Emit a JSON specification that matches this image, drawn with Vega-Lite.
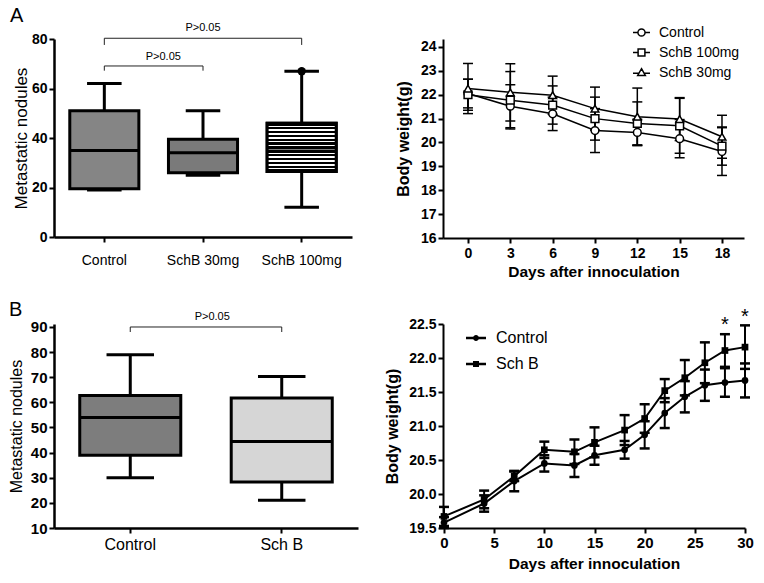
{
"$schema": "https://vega.github.io/schema/vega-lite/v6.json",
"autosize": {"type": "pad"},
"padding": {"left": 8, "top": 6, "right": 0, "bottom": 0},
"background": "white",
"config": {
  "font": "Liberation Sans",
  "view": {"stroke": null},
  "axis": {"domainColor": "black", "tickColor": "black", "labelColor": "black", "titleColor": "black", "grid": false, "tickSize": 5, "tickWidth": 2, "domainWidth": 2, "labelPadding": 2, "labelOverlap": false, "labelFont": "Liberation Sans", "titleFont": "Liberation Sans"},
  "title": {"color": "black", "font": "Liberation Sans"},
  "legend": {"labelFont": "Liberation Sans", "labelColor": "black"}
},
"datasets": {
  "boxA": [
    {"group": "Control", "min": 19, "q1": 19.5, "median": 35, "q3": 51, "max": 62},
    {"group": "SchB 30mg", "min": 25, "q1": 26, "median": 34, "q3": 39.5, "max": 51},
    {"group": "SchB 100mg", "min": 12, "q1": 26.5, "median": 36, "q3": 46, "max": 67}
  ],
  "outlierA": [{"group": "SchB 100mg", "value": 67}],
  "bracketA": [
    {"from": "Control", "to": "SchB 100mg", "y": 80.3, "yEnd": 77.6},
    {"from": "Control", "to": "SchB 30mg", "y": 69.1, "yEnd": 67.2}
  ],
  "bodyA": [
    {"group": "Control", "day": 0, "mean": 22.05, "lo": 21.45, "hi": 22.65},
    {"group": "Control", "day": 3, "mean": 21.52, "lo": 20.62, "hi": 22.42},
    {"group": "Control", "day": 6, "mean": 21.2, "lo": 20.5, "hi": 21.9},
    {"group": "Control", "day": 9, "mean": 20.5, "lo": 19.58, "hi": 21.42},
    {"group": "Control", "day": 12, "mean": 20.42, "lo": 19.87, "hi": 20.97},
    {"group": "Control", "day": 15, "mean": 20.16, "lo": 19.36, "hi": 20.96},
    {"group": "Control", "day": 18, "mean": 19.62, "lo": 18.62, "hi": 20.62},
    {"group": "SchB 100mg", "day": 0, "mean": 22.0, "lo": 21.35, "hi": 22.65},
    {"group": "SchB 100mg", "day": 3, "mean": 21.77, "lo": 20.57, "hi": 22.97},
    {"group": "SchB 100mg", "day": 6, "mean": 21.57, "lo": 20.77, "hi": 22.37},
    {"group": "SchB 100mg", "day": 9, "mean": 21.0, "lo": 20.1, "hi": 21.9},
    {"group": "SchB 100mg", "day": 12, "mean": 20.8, "lo": 19.9, "hi": 21.7},
    {"group": "SchB 100mg", "day": 15, "mean": 20.7, "lo": 19.55, "hi": 21.85},
    {"group": "SchB 100mg", "day": 18, "mean": 19.85, "lo": 19.05, "hi": 20.65},
    {"group": "SchB 30mg", "day": 0, "mean": 22.26, "lo": 21.21, "hi": 23.31},
    {"group": "SchB 30mg", "day": 3, "mean": 22.1, "lo": 20.9, "hi": 23.3},
    {"group": "SchB 30mg", "day": 6, "mean": 21.98, "lo": 21.18, "hi": 22.78},
    {"group": "SchB 30mg", "day": 9, "mean": 21.42, "lo": 20.52, "hi": 22.32},
    {"group": "SchB 30mg", "day": 12, "mean": 21.08, "lo": 19.88, "hi": 22.28},
    {"group": "SchB 30mg", "day": 15, "mean": 20.98, "lo": 20.08, "hi": 21.88},
    {"group": "SchB 30mg", "day": 18, "mean": 20.24, "lo": 19.34, "hi": 21.14}
  ],
  "boxB": [
    {"group": "Control", "min": 30, "q1": 39, "median": 54, "q3": 62.7, "max": 79},
    {"group": "Sch B", "min": 21, "q1": 28.3, "median": 44.4, "q3": 61.7, "max": 70.3}
  ],
  "bracketB": [{"from": "Control", "to": "Sch B", "y": 90, "yEnd": 88}],
  "bodyB": [
    {"group": "Control", "day": 0, "mean": 19.58, "lo": 19.5, "hi": 19.66},
    {"group": "Control", "day": 4, "mean": 19.86, "lo": 19.74, "hi": 19.98},
    {"group": "Control", "day": 7, "mean": 20.19, "lo": 20.04, "hi": 20.34},
    {"group": "Control", "day": 10, "mean": 20.45, "lo": 20.33, "hi": 20.57},
    {"group": "Control", "day": 13, "mean": 20.42, "lo": 20.25, "hi": 20.59},
    {"group": "Control", "day": 15, "mean": 20.57, "lo": 20.43, "hi": 20.71},
    {"group": "Control", "day": 18, "mean": 20.65, "lo": 20.52, "hi": 20.78},
    {"group": "Control", "day": 20, "mean": 20.87, "lo": 20.67, "hi": 21.07},
    {"group": "Control", "day": 22, "mean": 21.19, "lo": 20.97, "hi": 21.41},
    {"group": "Control", "day": 24, "mean": 21.43, "lo": 21.2, "hi": 21.66},
    {"group": "Control", "day": 26, "mean": 21.6, "lo": 21.37, "hi": 21.83},
    {"group": "Control", "day": 28, "mean": 21.64, "lo": 21.43, "hi": 21.85},
    {"group": "Control", "day": 30, "mean": 21.67, "lo": 21.42, "hi": 21.92},
    {"group": "Sch B", "day": 0, "mean": 19.67, "lo": 19.53, "hi": 19.81},
    {"group": "Sch B", "day": 4, "mean": 19.92, "lo": 19.79, "hi": 20.05},
    {"group": "Sch B", "day": 7, "mean": 20.26, "lo": 20.19, "hi": 20.33},
    {"group": "Sch B", "day": 10, "mean": 20.65, "lo": 20.53, "hi": 20.77},
    {"group": "Sch B", "day": 13, "mean": 20.62, "lo": 20.44, "hi": 20.8},
    {"group": "Sch B", "day": 15, "mean": 20.76, "lo": 20.54, "hi": 20.98},
    {"group": "Sch B", "day": 18, "mean": 20.94, "lo": 20.72, "hi": 21.16},
    {"group": "Sch B", "day": 20, "mean": 21.11, "lo": 20.9, "hi": 21.32},
    {"group": "Sch B", "day": 22, "mean": 21.52, "lo": 21.35, "hi": 21.69},
    {"group": "Sch B", "day": 24, "mean": 21.71, "lo": 21.45, "hi": 21.97},
    {"group": "Sch B", "day": 26, "mean": 21.93, "lo": 21.63, "hi": 22.23},
    {"group": "Sch B", "day": 28, "mean": 22.11, "lo": 21.87, "hi": 22.35},
    {"group": "Sch B", "day": 30, "mean": 22.16, "lo": 21.84, "hi": 22.48}
  ],
  "starsB": [{"day": 28, "y": 22.48, "label": "*"}, {"day": 30, "y": 22.6, "label": "*"}]
},
"columns": 2,
"align": "none",
"bounds": "flush",
"spacing": {"row": 86, "column": 85},
"resolve": {"scale": {"fill": "independent", "shape": "independent"}, "legend": {"fill": "independent", "shape": "independent"}},
"concat": [
      {
        "width": 298, "height": 198,
        "title": {"text": "A", "anchor": "start", "fontSize": 20, "fontWeight": "normal", "dx": -44, "offset": -20, "baseline": "alphabetic", "frame": "group"},
        "layer": [
          {"data": {"name": "boxA"}, "mark": {"type": "rule", "color": "black", "strokeWidth": 3},
           "encoding": {
             "x": {"field": "group", "type": "nominal", "bandPosition": 0.5, "scale": {"type": "band", "domain": ["Control", "SchB 30mg", "SchB 100mg"], "paddingInner": 0.3, "paddingOuter": 0.16},
                   "axis": {"title": null, "labelAngle": 0, "labelFontSize": 14, "labelPadding": 11, "domainWidth": 2.5, "tickWidth": 2}},
             "y": {"field": "min", "type": "quantitative", "scale": {"domain": [0, 80], "nice": false},
                   "axis": {"values": [0, 20, 40, 60, 80], "tickCount": 20, "format": "d", "labelOverlap": false, "title": "Metastatic nodules", "titleFontSize": 17, "titleFontWeight": "normal", "labelFontSize": 14, "labelFontWeight": "bold", "titlePadding": 1, "domainWidth": 2.5}},
             "y2": {"field": "max"}}},
          {"data": {"name": "boxA"}, "mark": {"type": "bar", "stroke": "black", "strokeWidth": 3},
           "encoding": {
             "x": {"field": "group", "type": "nominal"},
             "y": {"field": "q1", "type": "quantitative"}, "y2": {"field": "q3"},
             "fill": {"field": "group", "type": "nominal", "scale": {"domain": ["Control", "SchB 30mg", "SchB 100mg"], "range": ["#858585", "#7a7a7a", "#333333"]}, "legend": null}}},
          {"data": {"name": "boxA"}, "transform": [{"filter": "datum.group === 'SchB 100mg'"}],
           "mark": {"type": "bar", "stroke": "black", "strokeWidth": 3,
             "fill": {"gradient": "linear", "x1": 0, "y1": 0, "x2": 0, "y2": 1, "stops": [
               {"offset": 0, "color": "black"}, {"offset": 0.05, "color": "black"}, {"offset": 0.05, "color": "white"}, {"offset": 0.08, "color": "white"},
               {"offset": 0.08, "color": "black"}, {"offset": 0.13, "color": "black"}, {"offset": 0.13, "color": "white"}, {"offset": 0.16, "color": "white"},
               {"offset": 0.16, "color": "black"}, {"offset": 0.21, "color": "black"}, {"offset": 0.21, "color": "white"}, {"offset": 0.24, "color": "white"},
               {"offset": 0.24, "color": "black"}, {"offset": 0.29, "color": "black"}, {"offset": 0.29, "color": "white"}, {"offset": 0.32, "color": "white"},
               {"offset": 0.32, "color": "black"}, {"offset": 0.37, "color": "black"}, {"offset": 0.37, "color": "white"}, {"offset": 0.40, "color": "white"},
               {"offset": 0.40, "color": "black"}, {"offset": 0.45, "color": "black"}, {"offset": 0.45, "color": "white"}, {"offset": 0.48, "color": "white"},
               {"offset": 0.48, "color": "black"}, {"offset": 0.53, "color": "black"}, {"offset": 0.53, "color": "white"}, {"offset": 0.56, "color": "white"},
               {"offset": 0.56, "color": "black"}, {"offset": 0.61, "color": "black"}, {"offset": 0.61, "color": "white"}, {"offset": 0.64, "color": "white"},
               {"offset": 0.64, "color": "black"}, {"offset": 0.69, "color": "black"}, {"offset": 0.69, "color": "white"}, {"offset": 0.72, "color": "white"},
               {"offset": 0.72, "color": "black"}, {"offset": 0.77, "color": "black"}, {"offset": 0.77, "color": "white"}, {"offset": 0.80, "color": "white"},
               {"offset": 0.80, "color": "black"}, {"offset": 0.85, "color": "black"}, {"offset": 0.85, "color": "white"}, {"offset": 0.88, "color": "white"},
               {"offset": 0.88, "color": "black"}, {"offset": 0.93, "color": "black"}, {"offset": 0.93, "color": "white"}, {"offset": 0.96, "color": "white"},
               {"offset": 0.96, "color": "black"}, {"offset": 1, "color": "black"}]}},
           "encoding": {"x": {"field": "group", "type": "nominal"}, "y": {"field": "q1", "type": "quantitative"}, "y2": {"field": "q3"}}},
          {"data": {"name": "boxA"}, "mark": {"type": "bar", "fill": "black", "stroke": "black", "strokeWidth": 3},
           "encoding": {"x": {"field": "group", "type": "nominal"}, "y": {"field": "median", "type": "quantitative"}, "y2": {"field": "median"}}},
          {"data": {"name": "boxA"}, "mark": {"type": "bar", "width": {"band": 0.5}, "fill": "black", "stroke": "black", "strokeWidth": 3},
           "encoding": {"x": {"field": "group", "type": "nominal"}, "y": {"field": "max", "type": "quantitative"}, "y2": {"field": "max"}}},
          {"data": {"name": "boxA"}, "mark": {"type": "bar", "width": {"band": 0.5}, "fill": "black", "stroke": "black", "strokeWidth": 3},
           "encoding": {"x": {"field": "group", "type": "nominal"}, "y": {"field": "min", "type": "quantitative"}, "y2": {"field": "min"}}},
          {"data": {"name": "outlierA"}, "mark": {"type": "point", "filled": true, "color": "black", "size": 70, "opacity": 1},
           "encoding": {"x": {"field": "group", "type": "nominal", "bandPosition": 0.5}, "y": {"field": "value", "type": "quantitative"}}},
          {"data": {"name": "bracketA"}, "mark": {"type": "rule", "color": "#222222", "strokeWidth": 1},
           "encoding": {"x": {"field": "from", "type": "nominal", "bandPosition": 0.5}, "x2": {"field": "to", "bandPosition": 0.5}, "y": {"field": "y", "type": "quantitative"}}},
          {"data": {"name": "bracketA"}, "mark": {"type": "rule", "color": "#222222", "strokeWidth": 1},
           "encoding": {"x": {"field": "from", "type": "nominal", "bandPosition": 0.5}, "y": {"field": "y", "type": "quantitative"}, "y2": {"field": "yEnd"}}},
          {"data": {"name": "bracketA"}, "mark": {"type": "rule", "color": "#222222", "strokeWidth": 1},
           "encoding": {"x": {"field": "to", "type": "nominal", "bandPosition": 0.5}, "y": {"field": "y", "type": "quantitative"}, "y2": {"field": "yEnd"}}},
          {"data": {"values": [{"at": "SchB 30mg", "y": 84.4, "label": "P>0.05"}]}, "mark": {"type": "text", "fontSize": 11, "color": "black", "baseline": "middle"},
           "encoding": {"x": {"field": "at", "type": "nominal", "bandPosition": 0.5}, "y": {"field": "y", "type": "quantitative"}, "text": {"field": "label"}}},
          {"data": {"values": [{"at": "Control", "y": 72.7, "label": "P>0.05"}]}, "mark": {"type": "text", "fontSize": 11, "color": "black", "baseline": "middle", "dx": 59},
           "encoding": {"x": {"field": "at", "type": "nominal", "bandPosition": 0.5}, "y": {"field": "y", "type": "quantitative"}, "text": {"field": "label"}}}
        ]
      },
      {
        "width": 301, "height": 199,
        "layer": [
          {"data": {"name": "bodyA"}, "mark": {"type": "rule", "color": "black", "strokeWidth": 1.5},
           "encoding": {
             "x": {"field": "day", "type": "quantitative", "scale": {"domain": [-1.77, 19.56], "nice": false, "zero": false},
                   "axis": {"values": [0, 3, 6, 9, 12, 15, 18], "tickCount": 20, "format": "d", "labelOverlap": false, "title": "Days after innoculation", "titleFontSize": 15.5, "titleFontWeight": "bold", "labelFontSize": 14, "labelFontWeight": "bold", "labelPadding": 3, "titlePadding": 4, "labelFlush": false}},
             "y": {"field": "lo", "type": "quantitative", "scale": {"domain": [16, 24.335], "nice": false, "zero": false},
                   "axis": {"values": [16, 17, 18, 19, 20, 21, 22, 23, 24], "tickCount": 20, "format": "d", "labelOverlap": false, "title": "Body weight(g)", "titleFontSize": 16, "titleFontWeight": "bold", "labelFontSize": 14, "labelFontWeight": "bold", "titlePadding": 9}},
             "y2": {"field": "hi"}, "detail": {"field": "group"}}},
          {"data": {"name": "bodyA"}, "mark": {"type": "tick", "orient": "horizontal", "size": 10, "thickness": 1.5, "color": "black", "opacity": 1},
           "encoding": {"x": {"field": "day", "type": "quantitative"}, "y": {"field": "lo", "type": "quantitative"}}},
          {"data": {"name": "bodyA"}, "mark": {"type": "tick", "orient": "horizontal", "size": 10, "thickness": 1.5, "color": "black", "opacity": 1},
           "encoding": {"x": {"field": "day", "type": "quantitative"}, "y": {"field": "hi", "type": "quantitative"}}},
          {"data": {"name": "bodyA"}, "mark": {"type": "line", "color": "black", "strokeWidth": 1.5},
           "encoding": {"x": {"field": "day", "type": "quantitative"}, "y": {"field": "mean", "type": "quantitative"}, "detail": {"field": "group"}}},
          {"data": {"name": "bodyA"}, "mark": {"type": "point", "filled": false, "fill": "white", "stroke": "black", "strokeWidth": 1.5, "size": 60, "opacity": 1},
           "encoding": {
             "x": {"field": "day", "type": "quantitative"}, "y": {"field": "mean", "type": "quantitative"},
             "shape": {"condition": [{"test": "datum.group === 'Control'", "value": "circle"}, {"test": "datum.group === 'SchB 100mg'", "value": "square"}], "value": "triangle-up"}}},
          {"data": {"name": "bodyA"}, "transform": [{"filter": "false"}],
           "mark": {"type": "point", "filled": false, "color": "black", "strokeWidth": 1.5, "size": 289, "opacity": 1},
           "encoding": {
             "x": {"field": "day", "type": "quantitative"}, "y": {"field": "mean", "type": "quantitative"},
             "shape": {"field": "group", "type": "nominal",
               "scale": {"domain": ["Control", "SchB 100mg", "SchB 30mg"], "range": ["M-1,0H-0.42M0.42,0H1M-0.42,0A0.42,0.42,0,1,1,0.42,0A0.42,0.42,0,1,1,-0.42,0Z", "M-1,0H-0.4M0.4,0H1M-0.4,-0.4H0.4V0.4H-0.4Z", "M-1,0.1H-0.31M0.31,0.1H1M0,-0.45L0.45,0.35L-0.45,0.35Z"]},
               "legend": {"orient": "none", "legendX": 189, "legendY": -16, "title": null, "padding": 0, "symbolSize": 289, "symbolStrokeWidth": 1.5, "symbolStrokeColor": "black", "labelFontSize": 14, "labelOffset": 8, "rowPadding": 3}}}}
        ]
      },
      {
        "width": 304, "height": 204,
        "title": {"text": "B", "anchor": "start", "fontSize": 20, "fontWeight": "normal", "dx": -45, "offset": -25, "baseline": "alphabetic", "frame": "group"},
        "layer": [
          {"data": {"name": "boxB"}, "mark": {"type": "rule", "color": "black", "strokeWidth": 3},
           "encoding": {
             "x": {"field": "group", "type": "nominal", "bandPosition": 0.5, "scale": {"type": "band", "domain": ["Control", "Sch B"], "paddingInner": 0.333, "paddingOuter": 0.17},
                   "axis": {"title": null, "labelAngle": 0, "labelFontSize": 16, "labelPadding": 3, "domainWidth": 2.5, "tickWidth": 2}},
             "y": {"field": "min", "type": "quantitative", "scale": {"domain": [10, 91.19], "nice": false, "zero": false},
                   "axis": {"values": [10, 20, 30, 40, 50, 60, 70, 80, 90], "tickCount": 20, "format": "d", "labelOverlap": false, "title": "Metastatic nodules", "titleFontSize": 16, "titleFontWeight": "normal", "labelFontSize": 15, "labelFontWeight": "bold", "titlePadding": 6, "domainWidth": 2.5}},
             "y2": {"field": "max"}}},
          {"data": {"name": "boxB"}, "mark": {"type": "bar", "stroke": "black", "strokeWidth": 3},
           "encoding": {
             "x": {"field": "group", "type": "nominal"},
             "y": {"field": "q1", "type": "quantitative"}, "y2": {"field": "q3"},
             "fill": {"field": "group", "type": "nominal", "scale": {"domain": ["Control", "Sch B"], "range": ["#7d7d7d", "#d6d6d6"]}, "legend": null}}},
          {"data": {"name": "boxB"}, "mark": {"type": "bar", "fill": "black", "stroke": "black", "strokeWidth": 3},
           "encoding": {"x": {"field": "group", "type": "nominal"}, "y": {"field": "median", "type": "quantitative"}, "y2": {"field": "median"}}},
          {"data": {"name": "boxB"}, "mark": {"type": "bar", "width": {"band": 0.47}, "fill": "black", "stroke": "black", "strokeWidth": 3},
           "encoding": {"x": {"field": "group", "type": "nominal"}, "y": {"field": "max", "type": "quantitative"}, "y2": {"field": "max"}}},
          {"data": {"name": "boxB"}, "mark": {"type": "bar", "width": {"band": 0.47}, "fill": "black", "stroke": "black", "strokeWidth": 3},
           "encoding": {"x": {"field": "group", "type": "nominal"}, "y": {"field": "min", "type": "quantitative"}, "y2": {"field": "min"}}},
          {"data": {"name": "bracketB"}, "mark": {"type": "rule", "color": "#222222", "strokeWidth": 1},
           "encoding": {"x": {"field": "from", "type": "nominal", "bandPosition": 0.5}, "x2": {"field": "to", "bandPosition": 0.5}, "y": {"field": "y", "type": "quantitative"}}},
          {"data": {"name": "bracketB"}, "mark": {"type": "rule", "color": "#222222", "strokeWidth": 1},
           "encoding": {"x": {"field": "from", "type": "nominal", "bandPosition": 0.5}, "y": {"field": "y", "type": "quantitative"}, "y2": {"field": "yEnd"}}},
          {"data": {"name": "bracketB"}, "mark": {"type": "rule", "color": "#222222", "strokeWidth": 1},
           "encoding": {"x": {"field": "to", "type": "nominal", "bandPosition": 0.5}, "y": {"field": "y", "type": "quantitative"}, "y2": {"field": "yEnd"}}},
          {"data": {"values": [{"at": "Control", "y": 94, "label": "P>0.05"}]}, "mark": {"type": "text", "fontSize": 11, "color": "black", "baseline": "middle", "dx": 82},
           "encoding": {"x": {"field": "at", "type": "nominal", "bandPosition": 0.5}, "y": {"field": "y", "type": "quantitative"}, "text": {"field": "label"}}}
        ]
      },
      {
        "width": 302, "height": 204,
        "layer": [
          {"data": {"name": "bodyB"}, "mark": {"type": "rule", "color": "black", "strokeWidth": 2},
           "encoding": {
             "x": {"field": "day", "type": "quantitative", "scale": {"domain": [-0.1, 30], "nice": false, "zero": false},
                   "axis": {"values": [0, 5, 10, 15, 20, 25, 30], "tickCount": 20, "format": "d", "labelOverlap": false, "title": "Days after innoculation", "titleFontSize": 15.5, "titleFontWeight": "bold", "labelFontSize": 15, "labelFontWeight": "bold", "labelPadding": 2, "titlePadding": 6, "labelFlush": false}},
             "y": {"field": "lo", "type": "quantitative", "scale": {"domain": [19.5, 22.5], "nice": false, "zero": false},
                   "axis": {"values": [19.5, 20, 20.5, 21, 21.5, 22, 22.5], "tickCount": 20, "labelOverlap": false, "format": ".1f", "title": "Body weight(g)", "titleFontSize": 16, "titleFontWeight": "bold", "labelFontSize": 14, "labelFontWeight": "bold", "titlePadding": 8}},
             "y2": {"field": "hi"}, "detail": {"field": "group"}}},
          {"data": {"name": "bodyB"}, "mark": {"type": "tick", "orient": "horizontal", "size": 10, "thickness": 2.5, "color": "black", "opacity": 1},
           "encoding": {"x": {"field": "day", "type": "quantitative"}, "y": {"field": "lo", "type": "quantitative"}}},
          {"data": {"name": "bodyB"}, "mark": {"type": "tick", "orient": "horizontal", "size": 10, "thickness": 2.5, "color": "black", "opacity": 1},
           "encoding": {"x": {"field": "day", "type": "quantitative"}, "y": {"field": "hi", "type": "quantitative"}}},
          {"data": {"name": "bodyB"}, "mark": {"type": "line", "color": "black", "strokeWidth": 2},
           "encoding": {"x": {"field": "day", "type": "quantitative"}, "y": {"field": "mean", "type": "quantitative"}, "detail": {"field": "group"}}},
          {"data": {"name": "bodyB"}, "mark": {"type": "point", "filled": true, "color": "black", "size": 45, "opacity": 1},
           "encoding": {
             "x": {"field": "day", "type": "quantitative"}, "y": {"field": "mean", "type": "quantitative"},
             "shape": {"condition": {"test": "datum.group === 'Control'", "value": "circle"}, "value": "square"}}},
          {"data": {"name": "bodyB"}, "transform": [{"filter": "false"}],
           "mark": {"type": "point", "filled": true, "color": "black", "size": 400, "opacity": 1},
           "encoding": {
             "x": {"field": "day", "type": "quantitative"}, "y": {"field": "mean", "type": "quantitative"},
             "shape": {"field": "group", "type": "nominal",
               "scale": {"domain": ["Control", "Sch B"], "range": ["M-1,-0.12H1V0.12H-1Z M0.3,0A0.3,0.3,0,1,1,-0.3,0A0.3,0.3,0,1,1,0.3,0Z", "M-1,-0.12H1V0.12H-1Z M-0.3,-0.3H0.3V0.3H-0.3Z"]},
               "legend": {"orient": "none", "legendX": 23, "legendY": 4, "title": null, "padding": 0, "symbolSize": 400, "symbolFillColor": "black", "symbolStrokeWidth": 0, "labelFontSize": 16, "labelOffset": 10, "rowPadding": 8}}}},
          {"data": {"name": "starsB"}, "mark": {"type": "text", "fontSize": 20, "color": "black", "baseline": "middle"},
           "encoding": {"x": {"field": "day", "type": "quantitative"}, "y": {"field": "y", "type": "quantitative"}, "text": {"field": "label"}}}
        ]
      }
]
}
